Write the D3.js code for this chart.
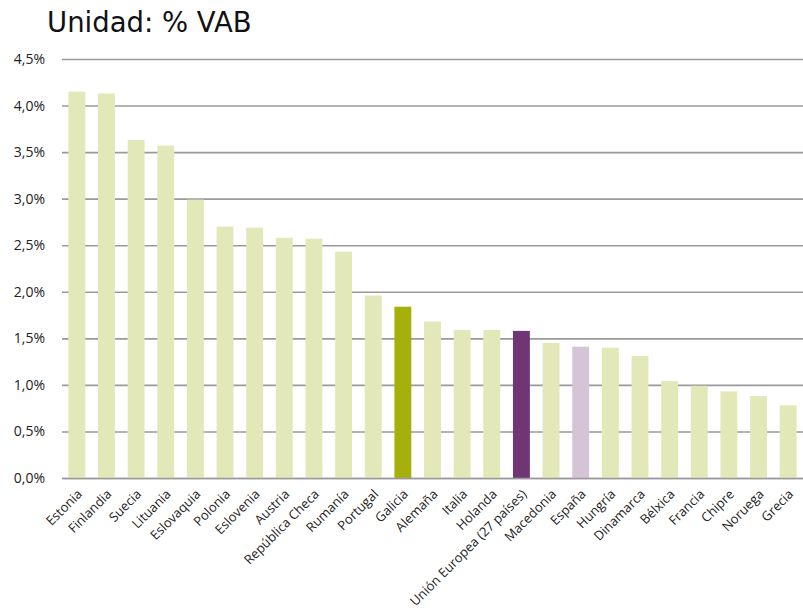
<!DOCTYPE html>
<html>
<head>
<meta charset="utf-8">
<script src="https://cdn.jsdelivr.net/npm/d3@7"></script>
<style>
  body { margin: 0; background: #fff; }
  svg { display: block; }
</style>
</head>
<body>
<div id="chart"></div>
<script>
var countries = ["Estonia", "Finlandia", "Suecia", "Lituania", "Eslovaquia", "Polonia", "Eslovenia",
    "Austria", "República Checa", "Rumanía", "Portugal", "Galicia", "Alemaña", "Italia", "Holanda",
    "Unión Europea (27 países)", "Macedonia", "España", "Hungría", "Dinamarca", "Bélxica", "Francia",
    "Chipre", "Noruega", "Grecia"];
var values = [4.15, 4.13, 3.63, 3.57, 2.99, 2.70, 2.69, 2.58, 2.57, 2.43, 1.96, 1.84, 1.68, 1.59, 1.59,
    1.58, 1.45, 1.41, 1.40, 1.31, 1.04, 0.99, 0.93, 0.88, 0.78];
var yTicks = [0, 0.5, 1, 1.5, 2, 2.5, 3, 3.5, 4, 4.5];
var highlight = {"Galicia": "#a5b10a", "Unión Europea (27 países)": "#6f3574", "España": "#d5c3d6"};

var width = 803, height = 610;
var margin = {left: 62, right: 0, top: 59, bottom: 132};

var svg = d3.select("#chart").append("svg")
    .attr("width", width)
    .attr("height", height);

svg.append("text")
    .attr("x", 47)
    .attr("y", 32)
    .attr("font-family", "DejaVu Sans")
    .attr("font-size", 27.5)
    .attr("fill", "#111")
    .text("Unidad: % VAB");

var x = d3.scaleBand()
    .domain(countries)
    .range([margin.left, width - margin.right])
    .paddingInner(0.43)
    .paddingOuter(0.215);

var y = d3.scaleLinear()
    .domain([0, 4.5])
    .range([height - margin.bottom, margin.top]);

var fmt = function(d) { return d3.format(".1f")(d).replace(".", ",") + "%"; };

// gridlines + y labels
var yAxis = svg.append("g")
    .attr("transform", "translate(" + margin.left + ",0)")
    .call(d3.axisLeft(y).tickValues(yTicks).tickFormat(fmt)
        .tickSize(-(width - margin.left - margin.right)).tickPadding(17));
yAxis.select(".domain").remove();
yAxis.selectAll("line")
    .attr("stroke", "#9a9a9a")
    .attr("stroke-width", 1.6);
yAxis.selectAll("text")
    .attr("font-family", "Open Sans")
    .attr("font-size", 14)
    .attr("fill", "#222");

svg.append("g")
    .selectAll("rect")
    .data(countries)
    .enter().append("rect")
    .attr("x", function(d) { return x(d); })
    .attr("y", function(d, i) { return y(values[i]); })
    .attr("width", x.bandwidth())
    .attr("height", function(d, i) { return y(0) - y(values[i]); })
    .attr("fill", function(d) { return highlight[d] || "#e3e8b9"; });

// x axis
var xAxis = svg.append("g")
    .attr("transform", "translate(0," + y(0) + ")")
    .call(d3.axisBottom(x).tickSize(0).tickPadding(0));
xAxis.select(".domain")
    .attr("stroke", "#9a9a9a")
    .attr("stroke-width", 1.6);
xAxis.selectAll("text")
    .attr("font-family", "Open Sans")
    .attr("font-size", 13)
    .attr("fill", "#222")
    .attr("text-anchor", "end")
    .attr("dy", null)
    .attr("y", null)
    .attr("transform", "translate(6,17) rotate(-45)");
</script>
</body>
</html>
